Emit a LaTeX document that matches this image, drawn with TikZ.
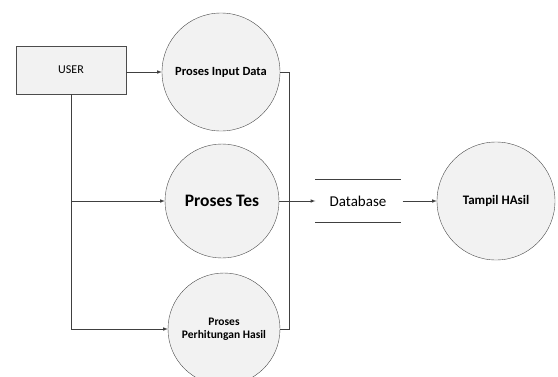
\documentclass[tikz,border=0pt]{standalone}
\usepackage{fontspec}
\setmainfont{Carlito}
\usepackage{tikz}

\tikzset{
  proses/.style={circle, draw=black!70, fill=black!5, inner sep=0pt, align=center, font=\bfseries\fontsize{11.5}{13.5}\selectfont},
  entitas/.style={rectangle, draw=black!70, fill=black!5, minimum width=110pt, minimum height=48pt, font=\fontsize{12}{14}\selectfont},
  garis/.style={draw=black!75, line width=0.6pt}
}

\begin{document}
\begin{tikzpicture}[x=1pt, y=-1pt, >=latex]
\useasboundingbox (0,0) rectangle (558,376);
\clip (0,0) rectangle (558,376);
% entity and processes
\node[entitas] (user) at (71,70) {USER};
\node[proses, minimum size=118pt, font=\bfseries\fontsize{12.5}{14}\selectfont] (input) at (221,72) {Proses Input Data};
\node[proses, minimum size=114pt, font=\bfseries\fontsize{17.5}{20}\selectfont] (tes) at (222,201) {Proses Tes};
\node[proses, minimum size=112pt] (hitung) at (224,329) {Proses\\Perhitungan Hasil};
\node[proses, minimum size=118pt, font=\bfseries\fontsize{13}{15}\selectfont] (tampil) at (496,201) {Tampil HAsil};
% data store
\node[inner sep=0pt, minimum width=85pt, minimum height=43pt, font=\fontsize{15}{17}\selectfont] (db) at (358,201) {Database};
\draw[garis] (db.north west) -- (db.north east);
\draw[garis] (db.south west) -- (db.south east);
\coordinate (bus) at (289,201);
% flows
\draw[garis,->] (user.east |- input.west) -- (input.west);
\draw[garis,->] (user.south) |- (tes.west);
\draw[garis,->] (user.south) |- (hitung.west);
\draw[garis] (input.east) -| (bus);
\draw[garis] (hitung.east) -| (bus);
\draw[garis,->] (tes.east) -- (db.west);
\draw[garis,->] (db.east) ++(2,0) -- (tampil.west);
\end{tikzpicture}
\end{document}
